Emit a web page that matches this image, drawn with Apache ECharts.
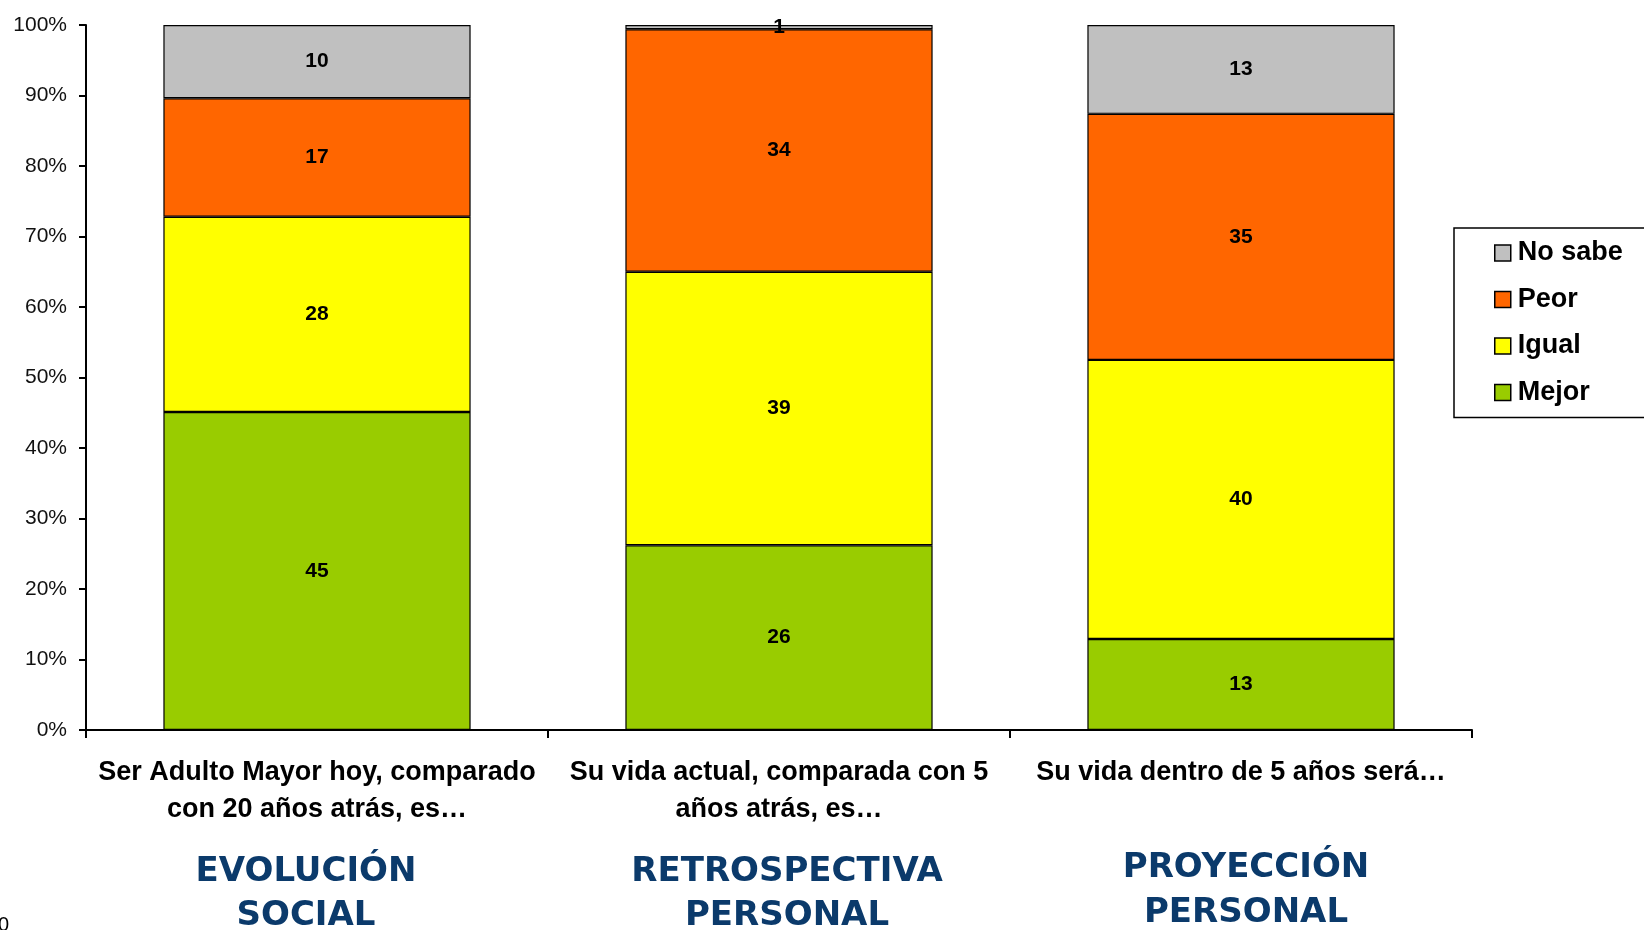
<!DOCTYPE html>
<html>
<head>
<meta charset="utf-8">
<script src="https://cdn.jsdelivr.net/npm/echarts@6/dist/echarts.min.js"></script>
<style>
  html, body { margin: 0; padding: 0; background: #fff; }
  #chart { width: 1644px; height: 930px; }
</style>
</head>
<body>
<div id="chart"></div>
<script>
  // datos (porcentajes; las etiquetas van redondeadas)
  var categorias = [
    'Ser Adulto Mayor hoy, comparado\ncon 20 años atrás, es…',
    'Su vida actual, comparada con 5\naños atrás, es…',
    'Su vida dentro de 5 años será…'
  ]
  var mejor = [45.1, 26.2, 12.9]
  var igual = [27.7, 38.8, 39.6]
  var peor = [16.8, 34.4, 34.9]
  var noSabe = [10.4, 0.6, 12.6]
  var yTicks = [0, 10, 20, 30, 40, 50, 60, 70, 80, 90, 100]

  var font = '"Liberation Sans", Arial, sans-serif'
  var fontTitulo = 'bold 34px "DejaVu Sans", Verdana, sans-serif'

  // 100% apilado: cada columna se normaliza a su total
  var totales = categorias.map(function (c, i) {
    return mejor[i] + igual[i] + peor[i] + noSabe[i]
  })
  function pct(arr) {
    return arr.map(function (v, i) {
      return { value: v / totales[i] * 100, raw: v }
    })
  }

  function serie(nombre, datos, color) {
    return {
      name: nombre,
      type: 'bar',
      stack: 'total',
      barWidth: '66.5%',
      data: pct(datos),
      itemStyle: { color: color, borderColor: '#000', borderWidth: 1.2 },
      label: {
        show: true,
        position: 'inside',
        color: '#000',
        fontFamily: font,
        fontWeight: 'bold',
        fontSize: 21,
        formatter: function (p) { return Math.round(p.data.raw) }
      }
    }
  }

  var chart = echarts.init(document.getElementById('chart'))
  var option = {
    animation: false,
    grid: { left: 86, right: 172, top: 25, bottom: 200 },
    legend: {
      orient: 'vertical',
      left: 1454,
      top: 228,
      data: ['No sabe', 'Peor', 'Igual', 'Mejor'],
      borderColor: '#000',
      borderWidth: 1.5,
      padding: [10, 80, 10, 40],
      itemWidth: 16,
      itemHeight: 16,
      itemGap: 16.5,
      icon: 'rect',
      itemStyle: { borderColor: '#000', borderWidth: 1.5 },
      textStyle: {
        color: '#000',
        fontFamily: font,
        fontWeight: 'bold',
        fontSize: 27,
        lineHeight: 30,
        padding: [0, 0, 0, 2]
      }
    },
    xAxis: {
      type: 'category',
      data: categorias,
      axisLine: { lineStyle: { color: '#000', width: 2 } },
      axisTick: { show: true, length: 8, lineStyle: { color: '#000', width: 2 } },
      axisLabel: {
        interval: 0,
        margin: 24,
        color: '#000',
        fontFamily: font,
        fontWeight: 'bold',
        fontSize: 27,
        lineHeight: 37,
        align: 'center'
      }
    },
    yAxis: {
      type: 'value',
      min: yTicks[0],
      max: yTicks[yTicks.length - 1],
      interval: 10,
      axisLine: { show: true, lineStyle: { color: '#000', width: 2 } },
      axisTick: { show: true, length: 7, lineStyle: { color: '#000', width: 2 } },
      splitLine: { show: false },
      axisLabel: {
        margin: 19,
        color: '#111',
        fontFamily: font,
        fontSize: 21,
        formatter: '{value}%'
      }
    },
    series: [
      serie('Mejor', mejor, '#99CC00'),
      serie('Igual', igual, '#FFFF00'),
      serie('Peor', peor, '#FF6600'),
      serie('No sabe', noSabe, '#C0C0C0')
    ],
    graphic: [
      { type: 'text', x: 306, y: 872, style: { text: 'EVOLUCIÓN', font: fontTitulo, fill: '#0B3A6B', align: 'center', verticalAlign: 'middle' } },
      { type: 'text', x: 306, y: 916, style: { text: 'SOCIAL', font: fontTitulo, fill: '#0B3A6B', align: 'center', verticalAlign: 'middle' } },
      { type: 'text', x: 787, y: 872, style: { text: 'RETROSPECTIVA', font: fontTitulo, fill: '#0B3A6B', align: 'center', verticalAlign: 'middle' } },
      { type: 'text', x: 787, y: 916, style: { text: 'PERSONAL', font: fontTitulo, fill: '#0B3A6B', align: 'center', verticalAlign: 'middle' } },
      { type: 'text', x: 1246, y: 868, style: { text: 'PROYECCIÓN', font: fontTitulo, fill: '#0B3A6B', align: 'center', verticalAlign: 'middle' } },
      { type: 'text', x: 1246, y: 913, style: { text: 'PERSONAL', font: fontTitulo, fill: '#0B3A6B', align: 'center', verticalAlign: 'middle' } },
      { type: 'text', x: -2, y: 915, style: { text: '0', font: '20px "Liberation Sans", Arial, sans-serif', fill: '#000' } }
    ]
  }
  chart.setOption(option)
  window.addEventListener('resize', () => {
    chart.resize()
  })
</script>
</body>
</html>
